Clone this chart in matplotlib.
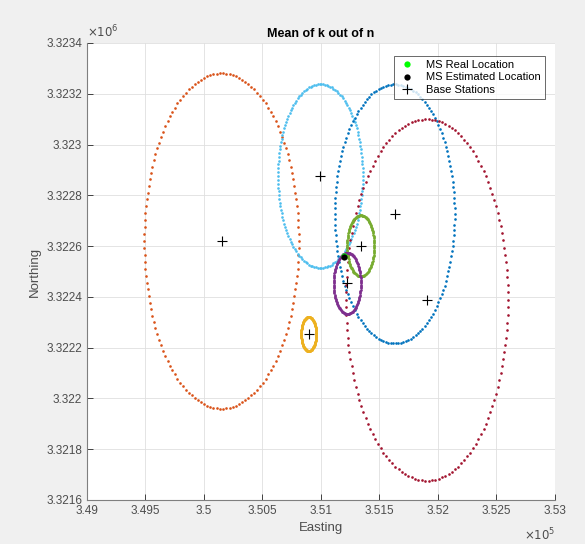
import numpy as np
import matplotlib
matplotlib.use("Agg")
import matplotlib.pyplot as plt
from matplotlib.ticker import FuncFormatter

plt.rcParams['font.family'] = ['Liberation Sans', 'DejaVu Sans']

# Base stations (Easting, Northing) and estimated range circles
bs_east = [350150, 350995, 351630, 351905, 351340, 351225, 350895]
bs_north = [3322620, 3322876, 3322727, 3322388, 3322601, 3322453, 3322254]
radius_east = [660, 362, 512, 692, 116, 116, 64]
radius_north = [660, 362, 510, 712, 120, 120, 67]
circle_colors = ['#D95319', '#4DBEEE', '#0072BD', '#A2142F', '#77AC30', '#7E2F8E', '#EDB120']

# MS locations
ms_real = (351195, 3322560)
ms_est = (351197, 3322557)

n_pts = 150

fig = plt.figure(figsize=(5.85, 5.44), dpi=100, facecolor='#F0F0F0')
ax = fig.add_axes([0.1487, 0.0809, 0.80, 0.8401])
ax.set_facecolor('white')

theta = np.linspace(0, 2 * np.pi, n_pts, endpoint=False)
for e, n, rx, ry, c in zip(bs_east, bs_north, radius_east, radius_north, circle_colors):
    ax.plot(e + rx * np.cos(theta), n + ry * np.sin(theta), 'o', color=c,
            markersize=1.9, markeredgewidth=0, zorder=2)

h_real, = ax.plot(ms_real[0], ms_real[1], 'o', color='#00FF00', markersize=4.5,
                  markeredgewidth=0, zorder=3, label='MS Real Location')
h_est, = ax.plot(ms_est[0], ms_est[1], 'o', color='black', markersize=4.5,
                 markeredgewidth=0, zorder=4, label='MS Estimated Location')
h_bs, = ax.plot(bs_east, bs_north, '+', color='black', markersize=7,
                markeredgewidth=0.8, linestyle='none', zorder=5, label='Base Stations')

ax.set_xlim(349000, 353000)
ax.set_ylim(3321600, 3323400)
ax.set_xticks(np.arange(349000, 353001, 500))
ax.set_yticks(np.arange(3321600, 3323401, 200))
ax.xaxis.set_major_formatter(FuncFormatter(lambda v, p: f"{v / 1e5:g}"))
ax.yaxis.set_major_formatter(FuncFormatter(lambda v, p: f"{round(v / 1e6, 4):g}"))

axcol = '#262626'
ax.tick_params(direction='in', length=4, width=0.6, colors=axcol, labelsize=8.5,
               labelcolor='#4D4D4D')
ax.grid(True, color='#DFDFDF', linewidth=0.6)
ax.set_axisbelow(True)
for s in ['top', 'right']:
    ax.spines[s].set_visible(False)
for s in ['left', 'bottom']:
    ax.spines[s].set_color('#7F7F7F')
    ax.spines[s].set_linewidth(0.8)

ax.set_xlabel('Easting', fontsize=9.5, color='#4D4D4D', labelpad=4)
ax.set_ylabel('Northing', fontsize=9.5, color='#4D4D4D', labelpad=4)
ax.set_title('Mean of k out of n', fontsize=9, fontweight='bold', color='black', pad=4)

ax.text(0.0, 1.005, r'$\times10^{6}$', transform=ax.transAxes, fontsize=8.5,
        color='#4D4D4D', ha='left', va='bottom')
ax.text(1.0, -0.058, r'$\times10^{5}$', transform=ax.transAxes, fontsize=8.5,
        color='#4D4D4D', ha='right', va='top')

leg = ax.legend(handles=[h_real, h_est, h_bs], loc='upper right',
                bbox_to_anchor=(0.985, 0.978), fontsize=8, frameon=True,
                fancybox=False, borderpad=0.35, handlelength=1.6,
                handletextpad=0.9, labelspacing=0.2, borderaxespad=0.3)
leg.get_frame().set_edgecolor('#262626')
leg.get_frame().set_linewidth(0.6)

fig.savefig('out.png', dpi=100, facecolor=fig.get_facecolor())
